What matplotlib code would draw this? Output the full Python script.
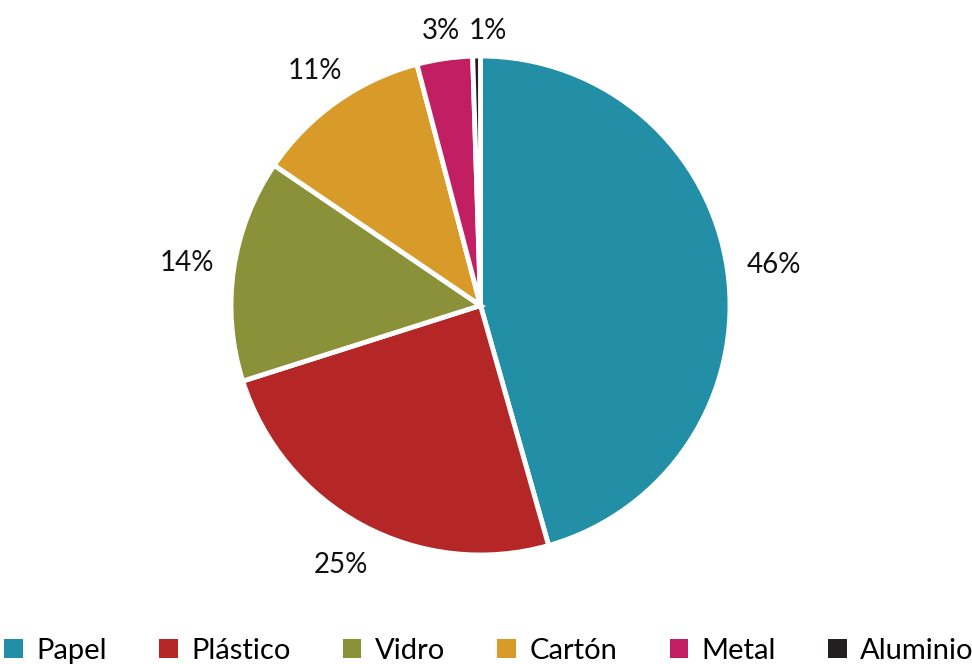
import numpy as np
import matplotlib
matplotlib.use("Agg")
import matplotlib.pyplot as plt
from matplotlib.patches import Patch

categories = ["Papel", "Plástico", "Vidro", "Cartón", "Metal", "Aluminio"]
values = [45.6, 24.5, 14.4, 11.4, 3.6, 0.5]
pct_labels = ["46%", "25%", "14%", "11%", "3%", "1%"]
colors = ["#238FA7", "#B52727", "#8B9138", "#D89A28", "#C21F63", "#231F20"]

W, H = 972, 664
fig = plt.figure(figsize=(W / 100, H / 100), dpi=100)

cx, cy, R = 480.5, 305.5, 249.5
ax = fig.add_axes([(cx - R) / W, (H - cy - R) / H, 2 * R / W, 2 * R / H])
wedges, _ = ax.pie(values, colors=colors, startangle=90, counterclock=False,
                   radius=1.0,
                   wedgeprops=dict(edgecolor="white", linewidth=3.5))
ax.set_xlim(-1, 1)
ax.set_ylim(-1, 1)
ax.set_aspect("equal")
ax.axis("off")

label_font = ["Lato", "DejaVu Sans"]
positions = []
for w in wedges:
    mid = np.deg2rad((w.theta1 + w.theta2) / 2)
    c, s = np.cos(mid), np.sin(mid)
    d = 1.10 + 0.09 * abs(c) + (0.04 if s < -0.5 else 0.0)
    positions.append([d * c, d * s])
# simple overlap avoidance for the small top labels (push later label right)
min_gap = 0.19
for i in range(1, len(positions)):
    px, py = positions[i - 1]
    x, y = positions[i]
    if abs(y - py) < 0.1 and x - px < min_gap:
        positions[i][0] = px + min_gap

for (x, y), lab in zip(positions, pct_labels):
    ax.text(x, y, lab, ha="center", va="center", fontsize=20,
            family=label_font, color="#111111", clip_on=False)

handles = [Patch(facecolor=col, edgecolor="none") for col in colors]
fig.legend(handles, categories, loc="center", bbox_to_anchor=(0.503, 13 / H),
           ncol=6, frameon=False,
           prop=dict(family=["Lato", "DejaVu Sans"], size=21),
           handlelength=0.64, handleheight=0.64, handletextpad=0.45,
           columnspacing=1.8, borderpad=0, borderaxespad=0)

fig.savefig("out.png", dpi=100, facecolor="white")
